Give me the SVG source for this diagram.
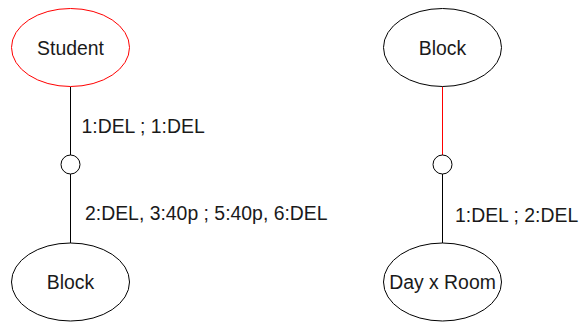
<svg xmlns="http://www.w3.org/2000/svg" width="579" height="322" viewBox="0 0 579 322">
  <style>
    .node { fill: #ffffff; stroke: #000000; stroke-width: 1; }
    .node.hl { stroke: #ff0000; }
    .joint { fill: #ffffff; stroke: #000000; stroke-width: 1; }
    .link { stroke: #000000; stroke-width: 1; fill: none; }
    .link.hl { stroke: #ff0000; }
    text { font-family: "Liberation Sans", Arial, sans-serif; font-size: 19.4px; fill: #1a1a1a; }
    .center { text-anchor: middle; }
  </style>
  <rect width="579" height="322" fill="#ffffff"/>

  <!-- connectors -->
  <g id="connectors">
    <line class="link" x1="70.5" y1="86.5" x2="70.5" y2="155"/>
    <line class="link" x1="70.5" y1="174" x2="70.5" y2="243"/>
    <line class="link hl" x1="442.5" y1="86.5" x2="442.5" y2="155"/>
    <line class="link" x1="442.5" y1="174" x2="442.5" y2="243"/>
    <circle id="joint-left" class="joint" cx="70.5" cy="164.5" r="9.5"/>
    <circle id="joint-right" class="joint" cx="442.5" cy="164.5" r="9.5"/>
    <text x="81.5" y="133">1:DEL ; 1:DEL</text>
    <text x="85" y="220">2:DEL, 3:40p ; 5:40p, 6:DEL</text>
    <text x="455" y="221.5">1:DEL ; 2:DEL</text>
  </g>

  <g id="student">
    <ellipse class="node hl" cx="70.5" cy="47.5" rx="59" ry="39"/>
    <text class="center" x="70.5" y="54.5">Student</text>
  </g>

  <g id="block-left">
    <ellipse class="node" cx="70.5" cy="282" rx="59" ry="39"/>
    <text class="center" x="70.5" y="289">Block</text>
  </g>

  <g id="block-right">
    <ellipse class="node" cx="442.5" cy="47.5" rx="59" ry="39"/>
    <text class="center" x="442.5" y="54.5">Block</text>
  </g>

  <g id="day-room">
    <ellipse class="node" cx="442.5" cy="282" rx="59" ry="39"/>
    <text class="center" x="442.5" y="289">Day x Room</text>
  </g>
</svg>
